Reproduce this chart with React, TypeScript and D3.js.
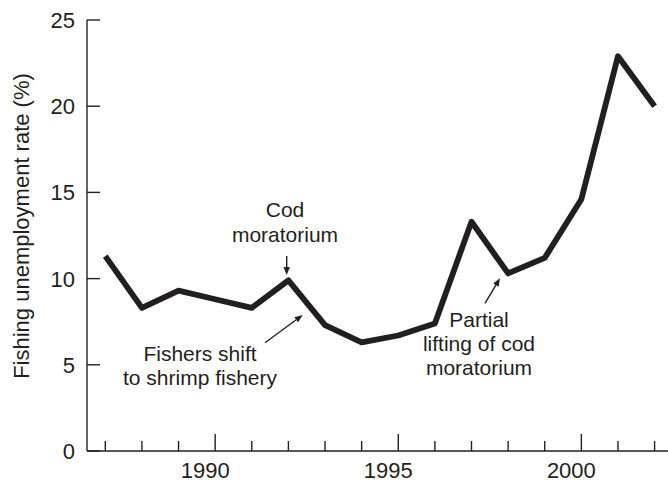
import React from 'react';
import * as d3 from 'd3';

// fishing unemployment rate by year
const years = [1987, 1988, 1989, 1990, 1991, 1992, 1993, 1994, 1995, 1996, 1997, 1998, 1999, 2000, 2001, 2002];
const rates = [11.3, 8.3, 9.3, 8.8, 8.3, 9.9, 7.3, 6.3, 6.7, 7.4, 13.3, 10.3, 11.2, 14.6, 22.9, 20.0];

const yTicks = [0, 5, 10, 15, 20, 25];
const xMajorTicks = [1990, 1995, 2000];
const xMinorTicks = [1987, 1988, 1989, 1991, 1992, 1993, 1994, 1996, 1997, 1998, 1999, 2001, 2002];

const yTitle = 'Fishing unemployment rate (%)';

const ink = '#231f20';
const font = '"Liberation Sans", Arial, Helvetica, sans-serif';

const App = () => {
    const width = 668, height = 485;
    const x = d3.scaleLinear().domain([1986.5, 2002.5]).range([87, 672.9]);
    const y = d3.scaleLinear().domain([0, 25]).range([451, 20]);

    const line = d3.line<number>()
        .x((d, i) => x(years[i]))
        .y(d => y(d));

    // little arrows for the notes
    const arrow = (x1: number, y1: number, x2: number, y2: number) => {
        const ang = Math.atan2(y2 - y1, x2 - x1);
        const len = 8, half = 3.2;
        const bx = x2 - len * Math.cos(ang), by = y2 - len * Math.sin(ang);
        const px = -Math.sin(ang) * half, py = Math.cos(ang) * half;
        return (
            <g>
                <line x1={x1} y1={y1} x2={bx} y2={by} stroke={ink} strokeWidth={1.4} />
                <path d={`M${x2},${y2}L${bx + px},${by + py}L${bx - px},${by - py}Z`} fill={ink} />
            </g>
        );
    };

    return (
        <svg width={width} height={height} style={{ position: 'absolute', left: 0, top: 0, background: '#fff' }}
            fontFamily={font} fill={ink}>
            {/* axes */}
            <line x1={x(1986.5)} y1={y(0)} x2={x(2002.5)} y2={y(0)} stroke={ink} strokeWidth={1.4} />
            <line x1={x(1986.5)} y1={y(0)} x2={x(1986.5)} y2={y(25)} stroke={ink} strokeWidth={1.4} />
            {yTicks.map(t => (
                <g key={'y' + t}>
                    <line x1={x(1986.5)} x2={x(1986.5) + 13} y1={y(t)} y2={y(t)} stroke={ink} strokeWidth={1.4} />
                    <text x={75} y={y(t)} dy="0.36em" textAnchor="end" fontSize={22}>{t}</text>
                </g>
            ))}
            {xMinorTicks.map(t => (
                <line key={'m' + t} x1={x(t)} x2={x(t)} y1={y(0)} y2={y(0) - 10} stroke={ink} strokeWidth={1.4} />
            ))}
            {xMajorTicks.map(t => (
                <g key={'x' + t}>
                    <line x1={x(t)} x2={x(t)} y1={y(0)} y2={y(0) - 17} stroke={ink} strokeWidth={1.4} />
                    {/* labels sit a little left of their ticks in the original */}
                    <text x={x(t) - 10} y={478} textAnchor="middle" fontSize={22}>{t}</text>
                </g>
            ))}
            <text transform={`translate(29,226) rotate(-90)`} textAnchor="middle" fontSize={22}>{yTitle}</text>

            {/* series */}
            <path d={line(rates) || ''} fill="none" stroke={ink} strokeWidth={5.8} strokeLinejoin="round" />

            {/* notes */}
            <g fontSize={21} textAnchor="middle">
                <text x={285} y={217}>Cod</text>
                <text x={285} y={242}>moratorium</text>
                <text x={200} y={361}>Fishers shift</text>
                <text x={200} y={385}>to shrimp fishery</text>
                <text x={479} y={327}>Partial</text>
                <text x={479} y={351}>lifting of cod</text>
                <text x={479} y={375}>moratorium</text>
            </g>
            {arrow(286.7, 256, 286.7, 275)}
            {arrow(265, 342.7, 302.7, 315)}
            {arrow(485, 303.3, 500, 278.3)}
        </svg>
    );
};

export default App;
